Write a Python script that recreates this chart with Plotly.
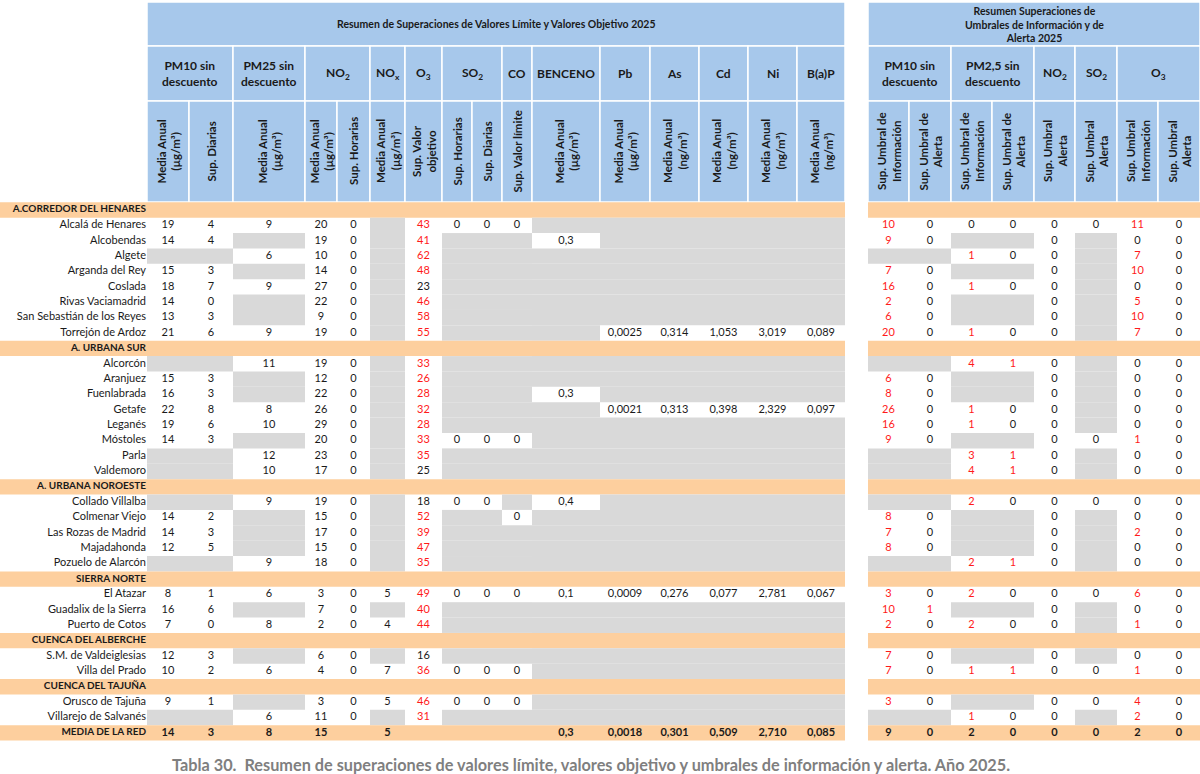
"""Tabla 30 — resumen de superaciones de valores límite / umbrales (Plotly)."""

import plotly.graph_objects as go

N = None  # celda sin dato (gris)

sections = ["A.CORREDOR DEL HENARES", "A. URBANA SUR", "A. URBANA NOROESTE",
            "SIERRA NORTE", "CUENCA DEL ALBERCHE", "CUENCA DEL TAJUÑA"]
section_sizes = [8, 8, 5, 3, 2, 2]
stations = [
    "Alcalá de Henares", "Alcobendas", "Algete", "Arganda del Rey", "Coslada",
    "Rivas Vaciamadrid", "San Sebastián de los Reyes", "Torrejón de Ardoz",
    "Alcorcón", "Aranjuez", "Fuenlabrada", "Getafe", "Leganés", "Móstoles", "Parla", "Valdemoro",
    "Collado Villalba", "Colmenar Viejo", "Las Rozas de Madrid", "Majadahonda", "Pozuelo de Alarcón",
    "El Atazar", "Guadalix de la Sierra", "Puerto de Cotos",
    "S.M. de Valdeiglesias", "Villa del Prado",
    "Orusco de Tajuña", "Villarejo de Salvanés",
]

# --- valores límite / objetivo ---
pm10_media = [19, 14, N, 15, 18, 14, 13, 21, N, 15, 16, 22, 19, 14, N, N, N, 14, 14, 12, N, 8, 16, 7, 12, 10, 9, N]
pm10_sup_d = [4, 4, N, 3, 7, 0, 3, 6, N, 3, 3, 8, 6, 3, N, N, N, 2, 3, 5, N, 1, 6, 0, 3, 2, 1, N]
pm25_media = [9, N, 6, N, 9, N, N, 9, 11, N, N, 8, 10, N, 12, 10, 9, N, N, N, 9, 6, N, 8, N, 6, N, 6]
no2_media = [20, 19, 10, 14, 27, 22, 9, 19, 19, 12, 22, 26, 29, 20, 23, 17, 19, 15, 17, 15, 18, 3, 7, 2, 6, 4, 3, 11]
no2_sup_h = [0, 0, 0, 0, 0, 0, 0, 0, 0, 0, 0, 0, 0, 0, 0, 0, 0, 0, 0, 0, 0, 0, 0, 0, 0, 0, 0, 0]
nox_media = [N, N, N, N, N, N, N, N, N, N, N, N, N, N, N, N, N, N, N, N, N, 5, N, 4, N, 7, 5, N]
o3_sup_vo = [43, 41, 62, 48, 23, 46, 58, 55, 33, 26, 28, 32, 28, 33, 35, 25, 18, 52, 39, 47, 35, 49, 40, 44, 16, 36, 46, 31]
so2_sup_h = [0, N, N, N, N, N, N, N, N, N, N, N, N, 0, N, N, 0, N, N, N, N, 0, N, N, N, 0, 0, N]
so2_sup_d = [0, N, N, N, N, N, N, N, N, N, N, N, N, 0, N, N, 0, N, N, N, N, 0, N, N, N, 0, 0, N]
co_sup_vl = [0, N, N, N, N, N, N, N, N, N, N, N, N, 0, N, N, N, 0, N, N, N, 0, N, N, N, 0, 0, N]
benceno = [N, 0.3, N, N, N, N, N, N, N, N, 0.3, N, N, N, N, N, 0.4, N, N, N, N, 0.1, N, N, N, N, N, N]
pb = [N, N, N, N, N, N, N, 0.0025, N, N, N, 0.0021, N, N, N, N, N, N, N, N, N, 0.0009, N, N, N, N, N, N]
as_ = [N, N, N, N, N, N, N, 0.314, N, N, N, 0.313, N, N, N, N, N, N, N, N, N, 0.276, N, N, N, N, N, N]
cd = [N, N, N, N, N, N, N, 1.053, N, N, N, 0.398, N, N, N, N, N, N, N, N, N, 0.077, N, N, N, N, N, N]
ni = [N, N, N, N, N, N, N, 3.019, N, N, N, 2.329, N, N, N, N, N, N, N, N, N, 2.781, N, N, N, N, N, N]
bap = [N, N, N, N, N, N, N, 0.089, N, N, N, 0.097, N, N, N, N, N, N, N, N, N, 0.067, N, N, N, N, N, N]

# --- umbrales de información y alerta ---
pm10_ui = [10, 9, N, 7, 16, 2, 6, 20, N, 6, 8, 26, 16, 9, N, N, N, 8, 7, 8, N, 3, 10, 2, 7, 7, 3, N]
pm10_ua = [0, 0, N, 0, 0, 0, 0, 0, N, 0, 0, 0, 0, 0, N, N, N, 0, 0, 0, N, 0, 1, 0, 0, 0, 0, N]
pm25_ui = [0, N, 1, N, 1, N, N, 1, 4, N, N, 1, 1, N, 3, 4, 2, N, N, N, 2, 2, N, 2, N, 1, N, 1]
pm25_ua = [0, N, 0, N, 0, N, N, 0, 1, N, N, 0, 0, N, 1, 1, 0, N, N, N, 1, 0, N, 0, N, 1, N, 0]
no2_ua = [0, 0, 0, 0, 0, 0, 0, 0, 0, 0, 0, 0, 0, 0, 0, 0, 0, 0, 0, 0, 0, 0, 0, 0, 0, 0, 0, 0]
so2_ua = [0, N, N, N, N, N, N, N, N, N, N, N, N, 0, N, N, 0, N, N, N, N, 0, N, N, N, 0, 0, N]
o3_ui = [11, 0, 7, 10, 0, 5, 10, 7, 0, 0, 0, 0, 0, 1, 0, 0, 0, 0, 2, 0, 0, 6, 0, 1, 0, 1, 4, 2]
o3_ua = [0, 0, 0, 0, 0, 0, 0, 0, 0, 0, 0, 0, 0, 0, 0, 0, 0, 0, 0, 0, 0, 0, 0, 0, 0, 0, 0, 0]

media_label = "MEDIA DE LA RED"
media_main = [14, 3, 8, 15, N, 5, N, N, N, N, 0.3, 0.0018, 0.301, 0.509, 2.710, 0.085]
media_alert = [9, 0, 2, 0, 0, 0, 2, 0]

main_title = "Resumen de Superaciones de Valores Límite y Valores Objetivo 2025"
alert_title = "Resumen Superaciones de<br>Umbrales de Información y de<br>Alerta 2025"
caption = ("Tabla 30.  Resumen de superaciones de valores límite, valores objetivo "
           "y umbrales de información y alerta. Año 2025.")

MA = "Media Anual<br>(µg/m³)"
MN = "Media Anual<br>(ng/m³)"
main_groups = [("PM10 sin<br>descuento", 2), ("PM25 sin<br>descuento", 1), ("NO<sub>2</sub>", 2),
               ("NO<sub>x</sub>", 1), ("O<sub>3</sub>", 1), ("SO<sub>2</sub>", 2), ("CO", 1),
               ("BENCENO", 1), ("Pb", 1), ("As", 1), ("Cd", 1), ("Ni", 1), ("B(a)P", 1)]
main_subs = [MA, "Sup. Diarias", MA, MA, "Sup. Horarias", MA, "Sup. Valor<br>objetivo",
             "Sup. Horarias", "Sup. Diarias", "Sup. Valor límite", MA, MA, MN, MN, MN, MN]
alert_groups = [("PM10 sin<br>descuento", 2), ("PM2,5 sin<br>descuento", 2), ("NO<sub>2</sub>", 1),
                ("SO<sub>2</sub>", 1), ("O<sub>3</sub>", 2)]
alert_subs = ["Sup. Umbral de<br>Información", "Sup. Umbral de<br>Alerta",
              "Sup. Umbral de<br>Información", "Sup. Umbral de<br>Alerta",
              "Sup. Umbral<br>Alerta", "Sup. Umbral<br>Alerta",
              "Sup. Umbral<br>Información", "Sup. Umbral<br>Alerta"]

main_cols = [pm10_media, pm10_sup_d, pm25_media, no2_media, no2_sup_h, nox_media, o3_sup_vo,
             so2_sup_h, so2_sup_d, co_sup_vl, benceno, pb, as_, cd, ni, bap]
main_dec = [0, 0, 0, 0, 0, 0, 0, 0, 0, 0, 1, 4, 3, 3, 3, 3]
alert_cols = [pm10_ui, pm10_ua, pm25_ui, pm25_ua, no2_ua, so2_ua, o3_ui, o3_ua]

# geometría (px)
W, H = 1200, 774
MAIN_X = [147, 189, 233, 305, 337, 370, 405, 442, 472, 502, 532, 600, 650, 699, 748, 797, 845]
ALERT_X = [868, 909, 951, 992, 1034, 1075, 1117, 1158, 1200]
HDR_Y = [2, 46, 101, 202]
ROW_TOP, ROW_H = 202.3, 15.38
LABEL_X = 146

BLUE, ORANGE, GRAY = "#a7c8eb", "#fdcf9e", "#d9d9d9"
INK, RED = "#1a1a1a", "#ff1a1a"
FONT = "Lato"

shapes, annotations = [], []


def rect(x0, x1, y0, y1, color, line=None):
    shapes.append(dict(type="rect", xref="x", yref="y", x0=x0, x1=x1, y0=y0, y1=y1,
                       fillcolor=color, layer="below",
                       line=dict(width=line or 0, color="white")))


def fmt(v, dec):
    return f"{v:.{dec}f}".replace(".", ",") if dec else str(v)


def ann(x, y, text, size, **kw):
    annotations.append(dict(x=x, y=y, xref="x", yref="y", text=text, showarrow=False,
                            font=dict(family=FONT, size=size, color=INK, weight="bold"), **kw))


# cabeceras
for edges, groups, subs, title in [(MAIN_X, main_groups, main_subs, main_title),
                                   (ALERT_X, alert_groups, alert_subs, alert_title)]:
    rect(edges[0], edges[-1], HDR_Y[0], HDR_Y[1], BLUE, 1.5)
    ann((edges[0] + edges[-1]) / 2, (HDR_Y[0] + HDR_Y[1]) / 2, title, 10.5)
    i = 0
    for label, span in groups:
        rect(edges[i], edges[i + span], HDR_Y[1], HDR_Y[2], BLUE, 1.5)
        ann((edges[i] + edges[i + span]) / 2, (HDR_Y[1] + HDR_Y[2]) / 2, label, 12)
        i += span
    for j, sub in enumerate(subs):
        rect(edges[j], edges[j + 1], HDR_Y[2], HDR_Y[3], BLUE, 1.5)
        ann((edges[j] + edges[j + 1]) / 2, (HDR_Y[2] + HDR_Y[3]) / 2, sub, 11.5,
            textangle=-90, align="center")

# cuerpo
txt = dict(x=[], y=[], t=[], c=[])
bold = dict(x=[], y=[], t=[])
lab = dict(x=[], y=[], t=[])
sec = dict(x=[], y=[], t=[])


def orange_row(r):
    y0 = ROW_TOP + r * ROW_H
    rect(0, MAIN_X[-1], y0, y0 + ROW_H, ORANGE)
    rect(ALERT_X[0], ALERT_X[-1], y0, y0 + ROW_H, ORANGE)


r, k = 0, 0
for name, size in zip(sections, section_sizes):
    orange_row(r)
    sec["x"].append(LABEL_X); sec["y"].append(ROW_TOP + (r + 0.5) * ROW_H); sec["t"].append(name)
    r += 1
    for _ in range(size):
        yc = ROW_TOP + (r + 0.5) * ROW_H
        lab["x"].append(LABEL_X); lab["y"].append(yc); lab["t"].append(stations[k])
        for edges, cols, decs, block in [(MAIN_X, main_cols, main_dec, "main"),
                                         (ALERT_X, alert_cols, [0] * 8, "alert")]:
            for j, col in enumerate(cols):
                v = col[k]
                if v is None:
                    rect(edges[j], edges[j + 1], yc - ROW_H / 2, yc + ROW_H / 2, GRAY)
                    continue
                hot = (v > 25 and col is o3_sup_vo) or (block == "alert" and v > 0)
                txt["x"].append((edges[j] + edges[j + 1]) / 2); txt["y"].append(yc)
                txt["t"].append(fmt(v, decs[j])); txt["c"].append(RED if hot else INK)
        r += 1
        k += 1

# media de la red
orange_row(r)
yc = ROW_TOP + (r + 0.5) * ROW_H
sec["x"].append(LABEL_X); sec["y"].append(yc); sec["t"].append(media_label)
for edges, vals, decs in [(MAIN_X, media_main, main_dec), (ALERT_X, media_alert, [0] * 8)]:
    for j, v in enumerate(vals):
        if v is None:
            continue
        bold["x"].append((edges[j] + edges[j + 1]) / 2); bold["y"].append(yc)
        bold["t"].append(fmt(v, decs[j]))

fig = go.Figure()
fig.add_trace(go.Scatter(x=txt["x"], y=txt["y"], text=txt["t"], mode="text",
                         textfont=dict(family=FONT, size=11, color=txt["c"]), hoverinfo="skip"))
fig.add_trace(go.Scatter(x=bold["x"], y=bold["y"], text=bold["t"], mode="text",
                         textfont=dict(family=FONT, size=11, color=INK, weight="bold"),
                         hoverinfo="skip"))
fig.add_trace(go.Scatter(x=lab["x"], y=lab["y"], text=lab["t"], mode="text", textposition="middle left",
                         textfont=dict(family=FONT, size=11, color=INK), hoverinfo="skip"))
fig.add_trace(go.Scatter(x=sec["x"], y=sec["y"], text=sec["t"], mode="text", textposition="middle left",
                         textfont=dict(family=FONT, size=10, color=INK, weight="bold"), hoverinfo="skip"))

annotations.append(dict(x=591, y=764, xref="x", yref="y", text=caption, showarrow=False,
                        font=dict(family=FONT, size=16.3, color="#7f7f7f", weight="bold")))

fig.update_layout(
    width=W, height=H, margin=dict(l=0, r=0, t=0, b=0),
    paper_bgcolor="white", plot_bgcolor="white", showlegend=False,
    xaxis=dict(range=[0, W], visible=False, fixedrange=True),
    yaxis=dict(range=[H, 0], visible=False, fixedrange=True),
    shapes=shapes, annotations=annotations,
)
fig.write_html("out.html", config={"displayModeBar": False},
               post_script="document.body.style.margin = '0px';")
